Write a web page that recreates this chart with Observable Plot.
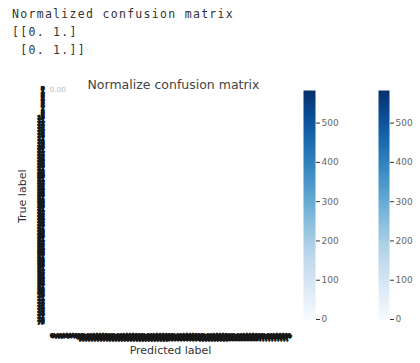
<!DOCTYPE html>
<html><head><meta charset="utf-8">
<script src="https://cdn.jsdelivr.net/npm/d3@7"></script>
<script src="https://cdn.jsdelivr.net/npm/@observablehq/plot@0.6"></script>
<style>
body{margin:0;background:#fff;}
#root{position:relative;width:420px;height:363px;overflow:hidden;background:#fff;}
pre{position:absolute;left:12px;top:5px;margin:0;font-family:"DejaVu Sans Mono",monospace;font-size:11.5px;line-height:18px;letter-spacing:1.3px;color:#333;}
.abs{position:absolute;top:60px;}
.main g[aria-label="y-axis tick label"], .main g[aria-label="x-axis tick label"]{opacity:0.99;}
.main g[aria-label="y-axis tick label"] text, .main g[aria-label="x-axis tick label"] text{stroke:#151515;stroke-width:1.3px;}
</style></head><body><div id="root"><pre id="out"></pre></div>
<script>
const printedTitle = "Normalized confusion matrix";
const normalizedMatrix = [[0, 1], [0, 1]];
const chartTitle = "Normalize confusion matrix";
const classes = ["0","1","2","3","4","5","6","7","8","9",
  "10","11","12","13","14","15","16","17","18","19",
  "20","21","22","23","24","25","26","27","28","29",
  "30","31","32","33","34","35","36","37","38","39",
  "40","41","42","43","44","45","46","47","48","49",
  "50","51","52","53","54","55","56","57","58","59",
  "60","61","62","63","64","65","66","67","68","69",
  "70","71","72","73","74","75","76","77","78","79"];
const cells = [{actual: "0", predicted: "0", count: 0}];
const colorMax = 583;
const colorTicks = [0, 100, 200, 300, 400, 500];

const root = document.getElementById("root");
document.getElementById("out").textContent =
  printedTitle + "\n[" + normalizedMatrix.map(r => "[" + r.map(v => v + ".").join(" ") + "]").join("\n ") + "]";

const main = Plot.plot({
  width: 300, height: 303, marginTop: 26, marginBottom: 40, marginLeft: 46, marginRight: 10,
  style: {fontFamily: "DejaVu Sans, sans-serif", background: "transparent"},
  x: {type: "band", domain: classes, padding: 0, label: null, axis: null},
  y: {type: "band", domain: classes, padding: 0, label: null, axis: null},
  color: {type: "linear", domain: [0, colorMax], scheme: "blues"},
  marks: [
    Plot.cell(cells, {x: "predicted", y: "actual", fill: "count"}),
    Plot.axisY({tickSize: 0, tickPadding: 2, fontSize: 5, fontWeight: "bold", fill: "#151515", label: null}),
    Plot.axisX({tickSize: 0, tickPadding: 11, tickRotate: -45, fontSize: 6, fontWeight: "bold", fill: "#151515", label: null, dx: 4}),
    Plot.text(cells, {x: "predicted", y: "actual", text: d => d.count.toFixed(2), textAnchor: "start", dx: 0, dy: 2, fill: "#bbb", fontSize: 7}),
    Plot.text([chartTitle], {frameAnchor: "top", dy: -6, dx: 5, fontSize: 12.5, fill: "#444", text: d => d}),
    Plot.text(["True label"], {frameAnchor: "left", dx: -24, dy: 18, rotate: -90, fontSize: 11, fill: "#333", text: d => d}),
    Plot.text(["Predicted label"], {frameAnchor: "bottom", dy: 30, dx: 2, fontSize: 11, fill: "#333", text: d => d})
  ]
});
main.classList.add("abs", "main");
main.style.left = "0px";
root.appendChild(main);

function colorbar(left, w) {
  const p = Plot.plot({
    width: 60, height: 303, marginTop: 30, marginBottom: 44, marginLeft: 10, marginRight: 60 - 10 - w,
    style: {fontFamily: "DejaVu Sans, sans-serif", background: "transparent"},
    x: {domain: [0, 1], axis: null},
    y: {domain: [0, colorMax], axis: null},
    color: {type: "linear", domain: [0, colorMax], scheme: "blues"},
    marks: [
      Plot.raster({fill: (x, y) => y, x1: 0, x2: 1, y1: 0, y2: colorMax}),
      Plot.axisY(colorTicks, {anchor: "right", tickSize: 4, tickPadding: 2, fontSize: 9, fill: "#666", stroke: "#333", label: null})
    ]
  });
  p.classList.add("abs");
  p.style.left = left + "px";
  root.appendChild(p);
}
colorbar(293, 12);
colorbar(368, 11);
</script></body></html>
